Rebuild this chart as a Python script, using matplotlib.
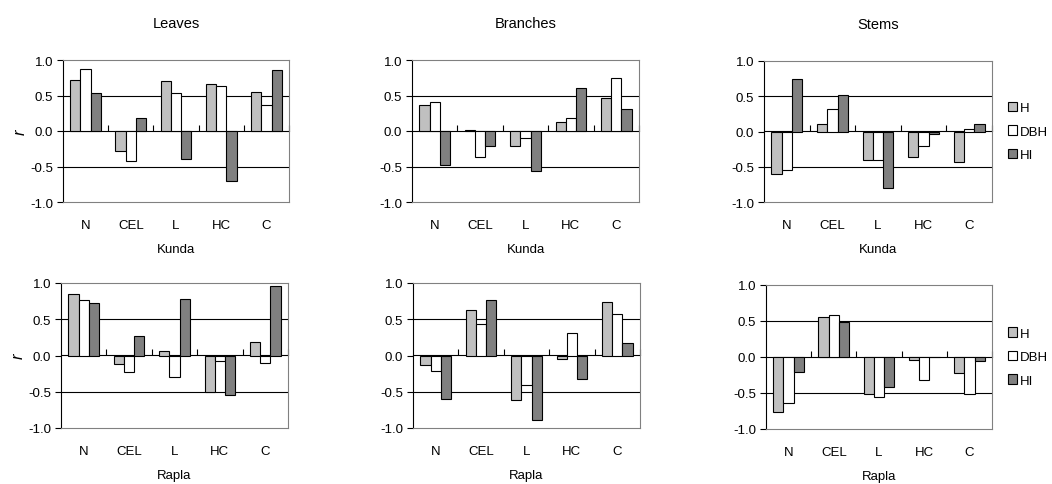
import matplotlib
matplotlib.use("Agg")
import matplotlib.pyplot as plt
import numpy as np

plt.rcParams['font.family'] = ['Liberation Sans', 'DejaVu Sans']

categories = ["N", "CEL", "L", "HC", "C"]
series = ["H", "DBH", "HI"]
tissues = ["Leaves", "Branches", "Stems"]
sites = ["Kunda", "Rapla"]

# r values per site / tissue, rows = H, DBH, HI
kunda_leaves = [[0.72, -0.28, 0.70, 0.66, 0.55],
                [0.87, -0.42, 0.53, 0.64, 0.36],
                [0.53, 0.19, -0.39, -0.70, 0.86]]
kunda_branches = [[0.36, 0.02, -0.21, 0.13, 0.47],
                  [0.41, -0.37, -0.10, 0.19, 0.75],
                  [-0.48, -0.21, -0.56, 0.60, 0.31]]
kunda_stems = [[-0.60, 0.11, -0.41, -0.36, -0.43],
               [-0.54, 0.32, -0.41, -0.20, 0.04],
               [0.75, 0.52, -0.80, -0.03, 0.11]]
rapla_leaves = [[0.85, -0.12, 0.06, -0.50, 0.18],
                [0.76, -0.23, -0.29, -0.08, -0.11],
                [0.73, 0.27, 0.78, -0.55, 0.96]]
rapla_branches = [[-0.13, 0.63, -0.61, -0.05, 0.74],
                  [-0.22, 0.43, -0.41, 0.31, 0.57],
                  [-0.60, 0.77, -0.89, -0.33, 0.17]]
rapla_stems = [[-0.76, 0.56, -0.52, -0.04, -0.22],
               [-0.64, 0.58, -0.55, -0.32, -0.52],
               [-0.21, 0.49, -0.42, -0.005, -0.055]]

data = {
    ("Kunda", "Leaves"): kunda_leaves,
    ("Kunda", "Branches"): kunda_branches,
    ("Kunda", "Stems"): kunda_stems,
    ("Rapla", "Leaves"): rapla_leaves,
    ("Rapla", "Branches"): rapla_branches,
    ("Rapla", "Stems"): rapla_stems,
}

colors = ["#c0c0c0", "#ffffff", "#808080"]

W, H = 1052, 485
fig = plt.figure(figsize=(W / 100, H / 100), dpi=100)

# axes boxes in pixels: left, top, right, bottom
boxes = [
    [(63, 61, 289, 203), (412, 61, 639, 203), (764, 62, 992, 203)],
    [(61, 284, 288, 429), (413, 284, 640, 429), (766, 286, 992, 430)],
]

x = np.arange(len(categories))
bw = 0.226

for r, site in enumerate(sites):
    for c, tissue in enumerate(tissues):
        l, t, rr, b = boxes[r][c]
        ax = fig.add_axes([l / W, 1 - b / H, (rr - l) / W, (b - t) / H])
        vals = data[(site, tissue)]
        handles = []
        for k, s in enumerate(series):
            h = ax.bar(x + (k - 1) * bw, vals[k], bw, color=colors[k],
                       edgecolor="black", linewidth=0.8, label=s, zorder=3)
            handles.append(h)
        ax.set_xlim(-0.5, 4.5)
        ax.set_ylim(-1.0, 1.0)
        ax.set_yticks([-1.0, -0.5, 0.0, 0.5, 1.0])
        ax.set_yticklabels(["-1.0", "-0.5", "0.0", "0.5", "1.0"])
        for yv in (0.5, -0.5):
            ax.axhline(yv, color="black", linewidth=0.8, zorder=1)
        ax.set_xticks(x)
        ax.set_xticklabels(categories)
        ax.tick_params(axis="x", length=0, pad=12, labelsize=9.5)
        ax.tick_params(axis="y", direction="out", length=4, width=0.8,
                       pad=3, labelsize=9.5)
        for sp in ("top", "right", "bottom"):
            ax.spines[sp].set_color("#808080")
            ax.spines[sp].set_linewidth(0.8)
        ax.spines["left"].set_color("black")
        ax.spines["left"].set_linewidth(0.8)

        # zero axis with boundary ticks
        sec = ax.secondary_xaxis(0.5)
        sec.set_xticks([0.5, 1.5, 2.5, 3.5, 4.5])
        sec.set_xticklabels([])
        sec.tick_params(direction="out", length=4, width=0.8)
        sec.spines["bottom"].set_linewidth(1.0)
        sec.spines["bottom"].set_color("black")
        sec.spines["bottom"].set_zorder(4)

        ax.set_xlabel(site, fontsize=9.5, labelpad=9)
        if r == 0:
            ax.set_title(tissue, fontsize=10.5, pad=24)
        if c == 0:
            ax.set_ylabel("r", fontstyle="italic", fontsize=12, labelpad=2)
        if c == 2:
            ax.legend(handles=handles, loc="center left",
                      bbox_to_anchor=(1.07, 0.5), frameon=False, fontsize=9.5,
                      handlelength=0.7, handleheight=0.7, handletextpad=0.2,
                      labelspacing=0.85, borderpad=0, borderaxespad=0)

fig.savefig("out.png", dpi=100)
